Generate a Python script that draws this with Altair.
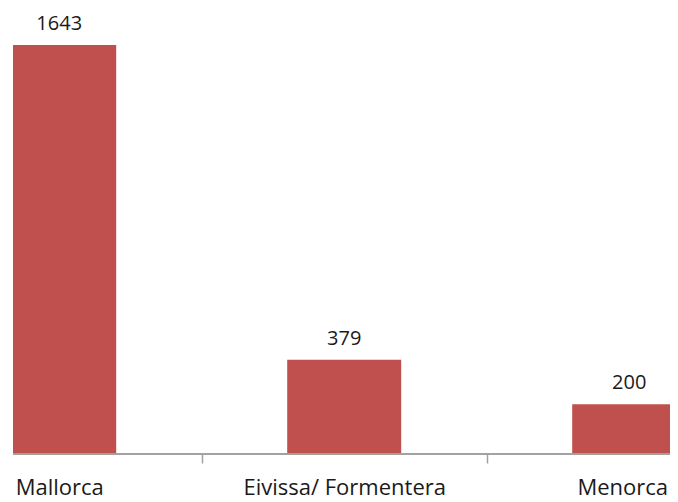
import altair as alt
import pandas as pd

categories = ["Mallorca", "Eivissa/ Formentera", "Menorca"]
values = [1643, 379, 200]

df = pd.DataFrame({"cat": categories, "val": values})

W = 657
H = 446
STEP = 285
R0 = 188.7 - STEP  # band-scale range start (view coords)

xscale = alt.Scale(domain=categories, range=[R0, R0 + 3 * STEP],
                   paddingInner=0.6, paddingOuter=0.3)
yscale = alt.Scale(domain=[0, 1792], nice=False)

base = alt.Chart(df)

label_offset = {"condition": {"test": "datum.value == 'Menorca'", "value": STEP / 2 - 7},
                "value": STEP / 2}

bars = base.mark_bar(color="#C0504D", clip=True).encode(
    x=alt.X("cat:N", scale=xscale, sort=categories,
            axis=alt.Axis(title=None, domain=False, grid=False,
                          tickOffset=-STEP / 2, labelOffset=label_offset,
                          tickSize=9, tickWidth=1.5, tickColor="#A0A0A0",
                          labelAngle=0, labelFont="Open Sans", labelFontSize=22,
                          labelColor="#1a1a1a", labelBaseline="alphabetic",
                          labelPadding=31, labelAlign="center", labelLimit=0)),
    y=alt.Y("val:Q", scale=yscale, axis=None),
)

texts = base.mark_text(baseline="alphabetic", dy=-15, font="Open Sans",
                       fontSize=20, color="#1a1a1a").encode(
    x=alt.X("cat:N", scale=xscale, sort=categories),
    y=alt.Y("val:Q", scale=yscale),
    text=alt.Text("val:Q"),
)

baseline = base.mark_rule(color="#A0A0A0", strokeWidth=1.5).encode(
    x=alt.value(0), x2=alt.value(W), y=alt.value(H)
)

chart = alt.layer(bars, baseline, texts).properties(
    width=W, height=H,
    autosize=alt.AutoSizeParams(type="none"),
    padding={"left": 5, "top": 0, "right": 0, "bottom": 48},
).configure_view(stroke=None)

chart.save("out.html", embed_options={"renderer": "svg", "actions": False})
